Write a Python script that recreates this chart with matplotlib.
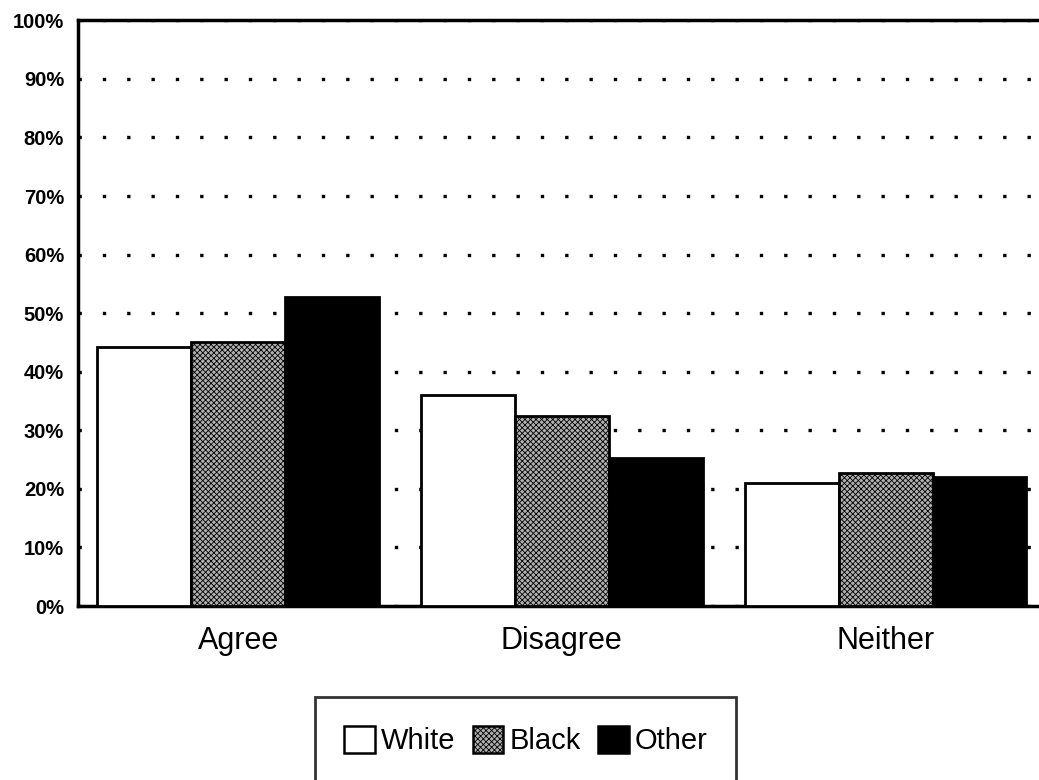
import numpy as np
import matplotlib.pyplot as plt
from matplotlib.patches import Patch

categories = ["Agree", "Disagree", "Neither"]
groups = ["White", "Black", "Other"]
white = [44.3, 36.0, 21.0]
black = [45.0, 32.4, 22.8]
other = [52.8, 25.3, 22.0]

plt.rcParams["font.family"] = ["Liberation Sans", "DejaVu Sans"]
plt.rcParams["hatch.linewidth"] = 0.6

fig = plt.figure(figsize=(10.39, 7.8), dpi=100)
ax = fig.add_axes([0.075, 0.223, 0.93, 0.751])

x = np.arange(len(categories))
width = 0.29
styles = [
    dict(facecolor="white", hatch=None),
    dict(facecolor="#b0b0b0", hatch="xxxxxx"),
    dict(facecolor="black", hatch=None),
]
for i, (vals, st) in enumerate(zip([white, black, other], styles)):
    ax.bar(x + (i - 1) * width, vals, width, edgecolor="black", linewidth=2.0,
           zorder=3, label=groups[i], **st)

ax.set_ylim(0, 100)
ax.set_xlim(-0.495, 2.49)
ax.set_yticks(np.arange(0, 101, 10))
ax.set_yticklabels([f"{v}%" for v in range(0, 101, 10)], fontsize=14.5, fontweight="bold")
ax.set_xticks(x)
ax.set_xticklabels(categories, fontsize=22)
ax.tick_params(length=0, pad=10)
ax.tick_params(axis="x", pad=14)
ax.yaxis.grid(True, linestyle=(0, (1, 6.3)), color="black", linewidth=2.4, zorder=0)
ax.set_axisbelow(True)
for side in ["left", "top", "bottom"]:
    ax.spines[side].set_linewidth(2.5)
ax.spines["right"].set_visible(False)

handles = [Patch(facecolor=st["facecolor"], hatch=st["hatch"], edgecolor="black", linewidth=1.8)
           for st in styles]
leg = fig.legend(handles, groups, loc="upper center", bbox_to_anchor=(0.506, 0.107),
                 ncol=3, fontsize=21, frameon=True, fancybox=False, edgecolor="black",
                 handlelength=1.05, handleheight=1.05, handletextpad=0.2, columnspacing=0.6,
                 borderpad=1.0, borderaxespad=0)
leg.get_frame().set_linewidth(2.0)

fig.savefig("out.png", dpi=100)
